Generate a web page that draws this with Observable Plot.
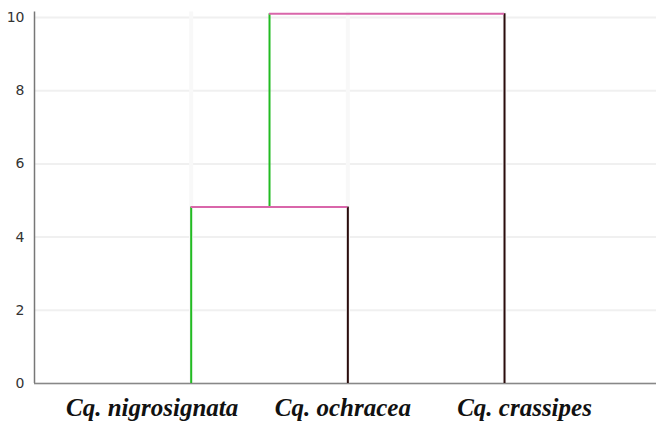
<!DOCTYPE html>
<html>
<head>
<meta charset="utf-8">
<script src="https://cdn.jsdelivr.net/npm/d3@7"></script>
<script src="https://cdn.jsdelivr.net/npm/@observablehq/plot@0.6"></script>
<style>
  html, body { margin: 0; padding: 0; background: #fff; }
</style>
</head>
<body>
<div id="chart"></div>
<script>
// Leaves of the dendrogram (left to right)
const leaves = ["Cq. nigrosignata", "Cq. ochracea", "Cq. crassipes"];
// Merges: joined items (leaf index or earlier cluster "c0"), and merge height
const mergeLeft = [0, "c0"];
const mergeRight = [1, 2];
const mergeHeight = [4.82, 10.1];
const yTicks = [0, 2, 4, 6, 8, 10];

const pos = {};
const hLines = [], vLines = [];
const leftColor = "#22bb22", horizColor = "#d966aa", rightColor = "#2a0c0c";
function info(k) {
  if (typeof k === "number") return {x: k, h: 0};
  return pos[k];
}
mergeLeft.forEach((l, i) => {
  const a = info(l), b = info(mergeRight[i]), h = mergeHeight[i];
  hLines.push({x1: a.x, x2: b.x, y: h});
  vLines.push({x: a.x, y1: a.h, y2: h, side: "left"});
  vLines.push({x: b.x, y1: b.h, y2: h, side: "right"});
  pos["c" + i] = {x: (a.x + b.x) / 2, h};
});
const labels = leaves.map((name, i) => ({x: i, name}));
const labelDx = [-39, -5, 20];

const chart = Plot.plot({
  width: 656,
  height: 425,
  marginLeft: 34,
  marginRight: 0,
  marginTop: 11.5,
  marginBottom: 42,
  x: {domain: [-1, 2.97], axis: null},
  y: {domain: [0, 10.15], label: null},
  style: {fontFamily: "DejaVu Sans, sans-serif", fontSize: "14px", color: "#333", background: "#fff"},
  marks: [
    Plot.gridY(yTicks, {stroke: "#f0f0f0", strokeOpacity: 1, strokeWidth: 2}),
    Plot.gridX(leaves.map((d, i) => i), {stroke: "#f8f8f8", strokeOpacity: 1, strokeWidth: 4}),
    Plot.axisY({ticks: yTicks, tickSize: 0, tickPadding: 10, label: null, fontSize: 14}),
    Plot.ruleX([-1], {stroke: "#777", strokeWidth: 1.5}),
    Plot.ruleY([0], {stroke: "#888", strokeWidth: 1.5}),
    Plot.ruleX(vLines, {x: "x", y1: "y1", y2: "y2", stroke: d => d.side === "left" ? leftColor : rightColor, strokeWidth: 2}),
    Plot.ruleY(hLines, {y: "y", x1: "x1", x2: "x2", stroke: horizColor, strokeWidth: 2}),
    Plot.text(labels, {
      x: "x", y: 0, text: "name", dy: 24,
      fontFamily: "Liberation Serif, Times New Roman, serif",
      fontStyle: "italic", fontWeight: "bold", fontSize: 25, fill: "#111"
    })
  ]
});
d3.select(chart).selectAll("g[aria-label=text] text").each(function(d, i) {
  d3.select(this).attr("dx", labelDx[i]);
});
document.getElementById("chart").appendChild(chart);
</script>
</body>
</html>
